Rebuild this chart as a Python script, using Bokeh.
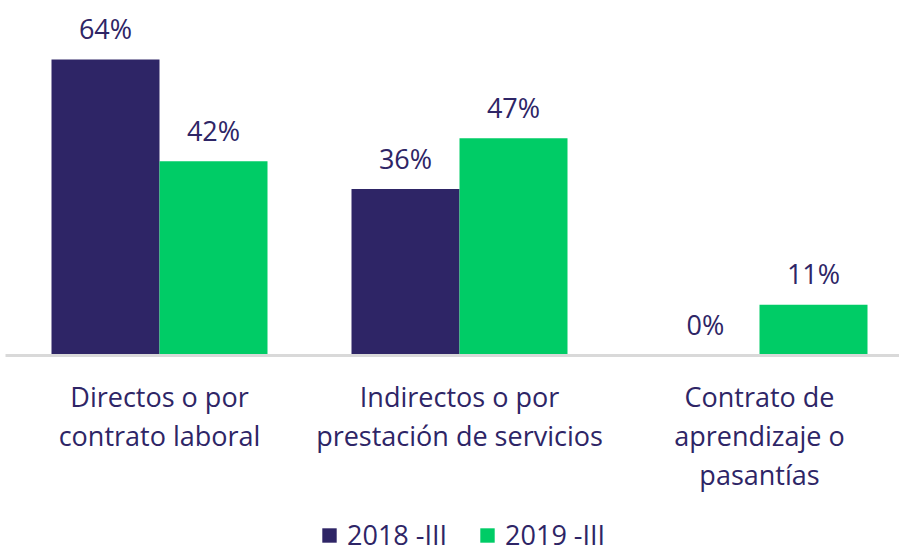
from bokeh.plotting import figure
from bokeh.models import ColumnDataSource, Legend, LegendItem
from bokeh.core.properties import value
from bokeh.embed import file_html
from bokeh.resources import INLINE

categories = ["Directos o por\ncontrato laboral",
              "Indirectos o por\nprestación de servicios",
              "Contrato de\naprendizaje o\npasantías"]
series_names = ["2018 -III", "2019 -III"]
values_2018 = [64, 36, 0]
values_2019 = [42, 47, 11]
colors = ["#2E2566", "#00CC66"]
text_color = "#2E2566"
FONT = "Open Sans"
FS = "27px"

PX_PER_UNIT = 4.625
W, H = 899, 550
base_px = 355
y_top = base_px / PX_PER_UNIT
y_bot = -(H - base_px) / PX_PER_UNIT
x_start = (0 - 159) / 300.0
x_end = (W - 159) / 300.0

p = figure(width=W, height=H, output_backend="svg", toolbar_location=None,
           x_range=(x_start, x_end), y_range=(y_bot, y_top),
           min_border=0, min_border_left=0, min_border_right=0,
           min_border_top=0, min_border_bottom=0)
p.axis.visible = False
p.grid.visible = False
p.outline_line_color = None
p.background_fill_color = None
p.border_fill_color = "white"

xs = list(range(len(categories)))
bw = 0.36
off = 0.18

src = ColumnDataSource(dict(
    x1=[x - off for x in xs], x2=[x + off for x in xs],
    v1=values_2018, v2=values_2019,
    l1=[f"{v}%" for v in values_2018], l2=[f"{v}%" for v in values_2019],
))

r1 = p.vbar(x="x1", top="v1", bottom=0, width=bw, source=src,
            fill_color=colors[0], line_color=None)
r2 = p.vbar(x="x2", top="v2", bottom=0, width=bw, source=src,
            fill_color=colors[1], line_color=None)

# baseline axis line
p.segment(x0=[(5 - 159) / 300.0], y0=[0], x1=[x_end], y1=[0],
          line_color="#D9D9D9", line_width=3)

for xk, lk, vk in (("x1", "l1", "v1"), ("x2", "l2", "v2")):
    p.text(x=xk, y=vk, text=lk, source=src, text_align="center",
           text_baseline="alphabetic", y_offset=-31,
           text_font=value(FONT), text_font_size=FS, text_color=text_color)

# category labels, one row per line
lx, ly, lt, lo = [], [], [], []
for i, c in enumerate(categories):
    for k, line in enumerate(c.split("\n")):
        lx.append(xs[i])
        ly.append(0)
        lt.append(line)
        lo.append(41 + 39 * k)
lsrc = ColumnDataSource(dict(x=lx, y=ly, text=lt, yo=lo))
p.text(x="x", y="y", text="text", y_offset="yo", source=lsrc,
       text_align="center", text_baseline="alphabetic",
       text_font=value(FONT), text_font_size=FS, text_color=text_color)

legend = Legend(items=[LegendItem(label=series_names[0], renderers=[r1]),
                       LegendItem(label=series_names[1], renderers=[r2])],
                orientation="horizontal", location=(320, -3),
                glyph_width=18, glyph_height=18, label_standoff=9, spacing=31,
                padding=0, margin=0, border_line_color=None,
                background_fill_alpha=0,
                label_text_font=FONT, label_text_font_size=FS,
                label_text_color=text_color)
p.add_layout(legend)

open("out.html", "w").write(file_html(p, INLINE))
